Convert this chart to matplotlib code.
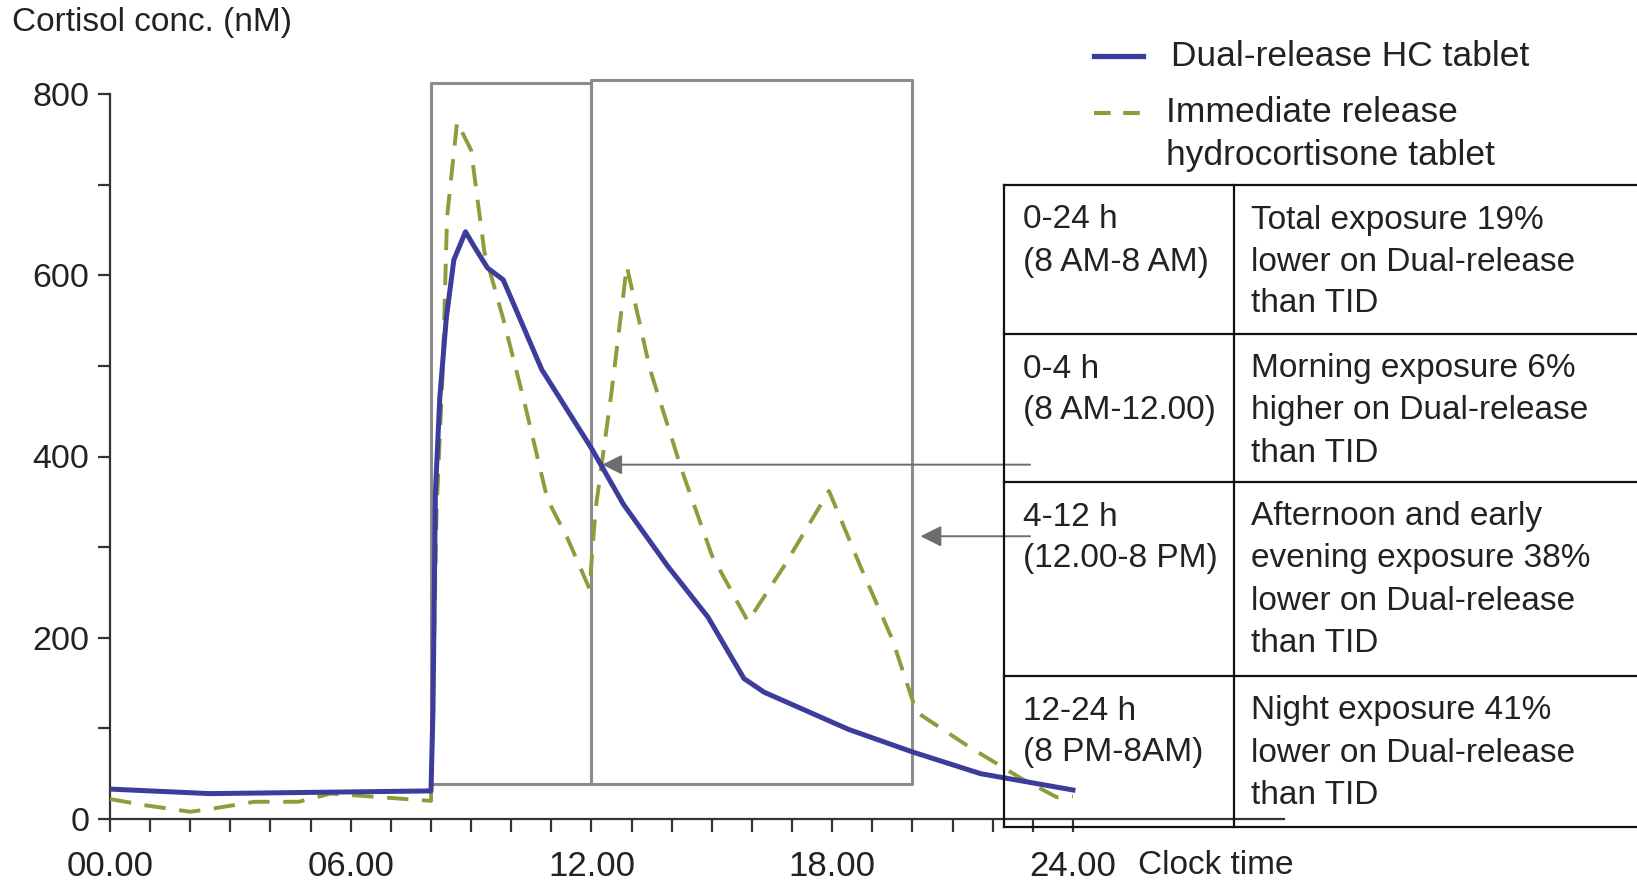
import numpy as np
import matplotlib.pyplot as plt

plt.rcParams['font.family'] = ['Liberation Sans', 'DejaVu Sans']

# dual-release hydrocortisone (solid blue)
dual_t = [0, 2.5, 8.0, 8.05, 8.11, 8.22, 8.38, 8.57, 8.86, 9.1, 9.41, 9.8, 10.76,
          12.0, 12.8, 13.9, 14.9, 15.8, 16.3, 18.4, 20.0, 21.7, 24.0]
dual_c = [33, 28, 31, 120, 360, 465, 552, 617, 648, 630, 608, 595, 496,
          409, 347, 279, 223, 155, 140, 99, 74, 50, 32]

# immediate release hydrocortisone, TID (dashed green)
ir_t = [0, 0.9, 2.0, 2.5, 3.6, 4.7, 5.5, 8.0, 8.14, 8.3, 8.4, 8.65, 9.0, 9.33, 9.8,
        10.3, 10.9, 11.4, 11.95, 12.1, 12.5, 12.88, 13.46, 14.25, 15.0, 15.9,
        16.8, 17.92, 18.7, 19.5, 20.1, 21.4, 22.7, 23.6, 24.0]
ir_c = [22, 15, 8, 11, 19, 19, 28, 20, 341, 502, 664, 769, 738, 626, 552,
        465, 353, 310, 254, 341, 471, 610, 496, 385, 291, 218,
        279, 362, 279, 198, 118, 80, 45, 24, 25]

x_ticks = [0, 6, 12, 18, 24]
x_labels = ['00.00', '06.00', '12.00', '18.00', '24.00']
y_ticks = [0, 200, 400, 600, 800]

legend_labels = ['Dual-release HC tablet', 'Immediate release\nhydrocortisone tablet']

table_left = ['0-24 h\n(8 AM-8 AM)', '0-4 h\n(8 AM-12.00)',
              '4-12 h\n(12.00-8 PM)', '12-24 h\n(8 PM-8AM)']
table_right = ['Total exposure 19%\nlower on Dual-release\nthan TID',
               'Morning exposure 6%\nhigher on Dual-release\nthan TID',
               'Afternoon and early\nevening exposure 38%\nlower on Dual-release\nthan TID',
               'Night exposure 41%\nlower on Dual-release\nthan TID']

BLUE = '#3b3c9c'
GREEN = '#8a9e3c'
GREY = '#8c8c8c'
TXT = '#222222'
FS = 24

W, H = 1637, 885


def px(x, y):
    # pixel position (from top-left) to figure fraction
    return x / W, 1 - y / H


fig = plt.figure(figsize=(W / 100, H / 100), dpi=100)
ax = fig.add_axes([110 / W, 66 / H, (1284 - 110) / W, (819 - 94) / H])

ax.plot(dual_t, dual_c, color=BLUE, lw=3.6, solid_joinstyle='round', zorder=4)
ax.plot(ir_t, ir_c, color=GREEN, lw=2.8, dashes=(5.5, 3.5), zorder=3)

# interval boxes
ax.plot([8, 12, 12, 8, 8], [39, 39, 812, 812, 39], color=GREY, lw=2.2, clip_on=False)
ax.plot([12, 20, 20, 12, 12], [39, 39, 815, 815, 39], color=GREY, lw=2.2, clip_on=False)

# arrows from the table into the boxes
ax.annotate('', xy=(12.2, 391), xytext=(23.0, 391),
            arrowprops=dict(arrowstyle='-|>', color='#6e6e6e', lw=1.4, mutation_scale=30),
            annotation_clip=False)
ax.annotate('', xy=(20.13, 312), xytext=(23.0, 312),
            arrowprops=dict(arrowstyle='-|>', color='#6e6e6e', lw=1.4, mutation_scale=32),
            annotation_clip=False)

ax.set_xlim(0, 29.26)
ax.set_ylim(0, 800)
ax.set_xticks(x_ticks)
ax.set_xticklabels(x_labels)
ax.set_xticks(np.arange(0, 25, 1), minor=True)
ax.set_yticks(y_ticks)
ax.set_yticks(np.arange(0, 801, 100), minor=True)
for s in ['top', 'right']:
    ax.spines[s].set_visible(False)
for s in ['left', 'bottom']:
    ax.spines[s].set_color('#333333')
    ax.spines[s].set_linewidth(1.6)
ax.tick_params(which='both', direction='out', length=9, width=1.6, color='#333333')
ax.tick_params(axis='y', labelsize=24.5, labelcolor=TXT, pad=6)
ax.tick_params(axis='x', labelsize=25, labelcolor=TXT, pad=13)

fig.text(*px(12, 23), 'Cortisol conc. (nM)', fontsize=FS, color=TXT, va='center', ha='left')
fig.text(*px(1138, 866), 'Clock time', fontsize=FS, color=TXT, va='center', ha='left')

# legend drawn by hand
fig.add_artist(plt.Line2D([1094 / W, 1143 / W], [1 - 56 / H] * 2, color=BLUE, lw=3.8))
fig.add_artist(plt.Line2D([1094 / W, 1143 / W], [1 - 113 / H] * 2, color=GREEN, lw=3,
                          dashes=(4, 3)))
fig.text(*px(1171, 57), legend_labels[0], fontsize=25.5, color=TXT, va='center')
for k, line in enumerate(legend_labels[1].split('\n')):
    fig.text(*px(1166, 112 + 43 * k), line, fontsize=25.5, color=TXT, va='center')

# table
row_y = [185, 334, 482, 676, 827]
for y in row_y:
    fig.add_artist(plt.Line2D([1004 / W, 1.0], [1 - y / H] * 2, color='#111111', lw=1.6))
for x in [1004, 1234]:
    fig.add_artist(plt.Line2D([x / W] * 2, [1 - 185 / H, 1 - 827 / H], color='#111111', lw=1.6))

for r in range(len(table_left)):
    y0 = row_y[r] + 35
    for k, line in enumerate(table_left[r].split('\n')):
        fig.text(*px(1023, y0 + 42 * k), line, fontsize=FS, color=TXT, va='center')
    for k, line in enumerate(table_right[r].split('\n')):
        fig.text(*px(1251, y0 + 42 * k), line, fontsize=FS, color=TXT, va='center')

plt.savefig('out.png', dpi=100)
